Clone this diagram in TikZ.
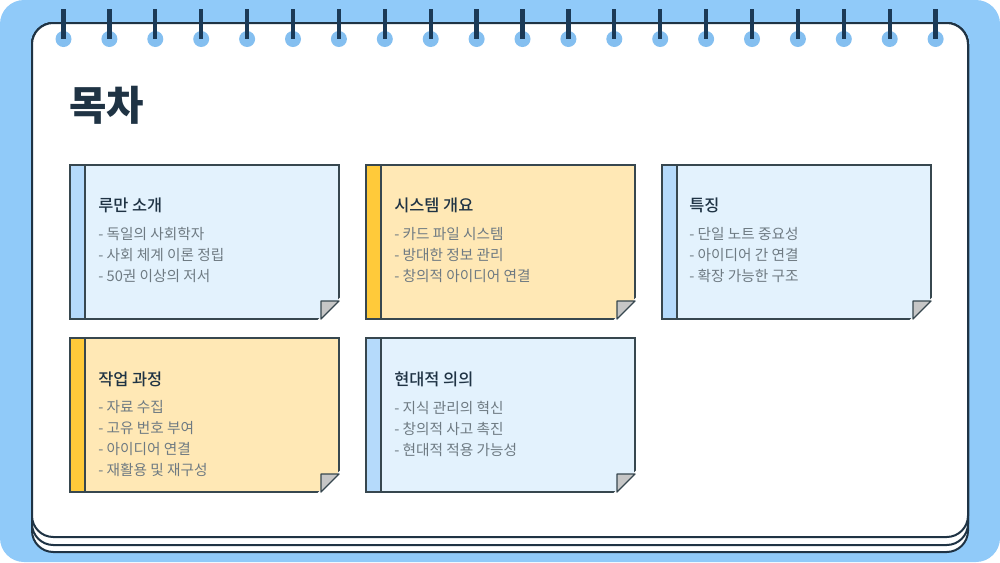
\documentclass[tikz,border=0pt]{standalone}
\usepackage{fontspec}
\usepackage{xcolor}
\usepackage{tikz}
\usetikzlibrary{calc}
\setmainfont{Noto Sans CJK KR}
\newfontfamily\titlefont{Noto Sans CJK KR Black}
\newfontfamily\headfont{Noto Sans CJK KR Medium}

\definecolor{skyback}{HTML}{90CAF9}
\definecolor{holeblue}{HTML}{84BFF0}
\definecolor{inkdark}{HTML}{1F3344}
\definecolor{cardink}{HTML}{37474F}
\definecolor{ringdark}{HTML}{1B3A57}
\definecolor{bluepaper}{HTML}{E3F2FD}
\definecolor{bluestrip}{HTML}{B5DAFB}
\definecolor{yellowpaper}{HTML}{FFE8B5}
\definecolor{yellowstrip}{HTML}{FFCA3A}
\definecolor{itemgray}{HTML}{6E7A82}

\begin{document}
\begin{tikzpicture}[
    x=0.75pt, y=-0.75pt,
    sheet/.style={draw=inkdark, line width=1.5pt, fill=white, rounded corners=16pt},
    ring/.style={draw=ringdark, line width=3.2pt},
    hole/.style={fill=holeblue},
    card/.style={rectangle, draw=cardink, line width=1pt, anchor=north west, outer sep=0pt, minimum width=201.75pt, minimum height=115.5pt},
    bluecard/.style={card, fill=bluepaper},
    yellowcard/.style={card, fill=yellowpaper},
    fold/.style={draw=cardink, line width=1pt, line join=round, fill=gray!45},
    heading/.style={anchor=west, inner sep=0pt, text=inkdark, font=\fontsize{12.3}{14}\headfont},
    items/.style={anchor=north west, inner sep=0pt, align=left, text=itemgray, font=\fontsize{11}{15.75}\selectfont}
]
    \useasboundingbox (0,0) rectangle (1000,562);
    \fill[white] (0,0) rectangle (1000,562);
    \fill[skyback, rounded corners=18pt] (0,0) rectangle (1000,562);

    % notebook pages
    \draw[sheet] (32,23) rectangle (968,552);
    \draw[sheet] (32,23) rectangle (968,545);
    \draw[sheet] (32,23) rectangle (968,537);

    \foreach \i in {0,...,19} {
        \fill[hole] (63.5+45.9*\i,39) circle (8);
        \draw[ring] (63.5+45.9*\i,9) -- (63.5+45.9*\i,39);
    }

    \node[anchor=west, inner sep=0pt, text=inkdark, font=\fontsize{30.5}{34}\titlefont] (title) at (69,105) {목차};

    \node[bluecard] (intro) at (70,165) {};
    \node[yellowcard] (system) at (366,165) {};
    \node[bluecard] (feature) at (662,165) {};
    \node[yellowcard] (work) at (70,338) {};
    \node[bluecard] (modern) at (366,338) {};

    \foreach \c/\s in {intro/bluestrip, system/yellowstrip, feature/bluestrip, work/yellowstrip, modern/bluestrip} {
        \draw[draw=cardink, line width=1pt, fill=\s] (\c.north west) rectangle ($(\c.south west)+(15,0)$);
        \fill[white, draw=white, line width=2.5pt] (\c.south east) -- ($(\c.south east)+(0,-18)$) -- ($(\c.south east)+(-18,0)$) -- cycle;
        \draw[fold] ($(\c.south east)+(-18,-18)$) -- ($(\c.south east)+(0,-18)$) -- ($(\c.south east)+(-18,0)$) -- cycle;
    }

    \node[heading] (introhead) at (98,205) {루만 소개};
    \node[items] (introitems) at (98,227.5) {- 독일의 사회학자\\- 사회 체계 이론 정립\\- 50권 이상의 저서};

    \node[heading] (systemhead) at (394,205) {시스템 개요};
    \node[items] (systemitems) at (394,227.5) {- 카드 파일 시스템\\- 방대한 정보 관리\\- 창의적 아이디어 연결};

    \node[heading] (featurehead) at (689,205) {특징};
    \node[items] (featureitems) at (689,227.5) {- 단일 노트 중요성\\- 아이디어 간 연결\\- 확장 가능한 구조};

    \node[heading] (workhead) at (98,379) {작업 과정};
    \node[items] (workitems) at (98,400.5) {- 자료 수집\\- 고유 번호 부여\\- 아이디어 연결\\- 재활용 및 재구성};

    \node[heading] (modernhead) at (394,379) {현대적 의의};
    \node[items] (modernitems) at (394,400.5) {- 지식 관리의 혁신\\- 창의적 사고 촉진\\- 현대적 적용 가능성};
\end{tikzpicture}
\end{document}
